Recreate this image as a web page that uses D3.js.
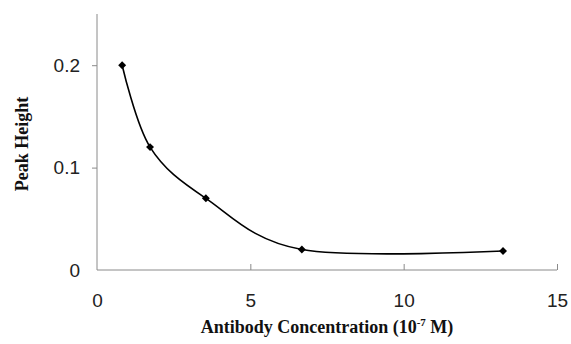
<!DOCTYPE html>
<html>
<head>
<meta charset="utf-8">
<script src="https://cdn.jsdelivr.net/npm/d3@7"></script>
<style>
  html, body { margin: 0; padding: 0; background: #fff; }
  svg { display: block; }
</style>
</head>
<body>
<svg id="chart" width="571" height="344"></svg>
<script>
// antibody concentration (10^-7 M) vs peak height
const concentration = [0.82, 1.73, 3.55, 6.68, 13.24];
const peakHeight = [0.2, 0.12, 0.07, 0.02, 0.0185];
const xTicks = [0, 5, 10, 15];
const yTicks = [0, 0.1, 0.2];

const svg = d3.select("#chart");
const margin = { left: 97, right: 14, top: 14, bottom: 74 };
const width = 571, height = 344;

const x = d3.scaleLinear().domain([0, 15]).range([margin.left, width - margin.right]);
const y = d3.scaleLinear().domain([0, 0.25]).range([height - margin.bottom, margin.top]);

const axisColor = "#8a8a8a";
const tickFont = "'Liberation Sans', Arial, sans-serif";
const titleFont = "'Liberation Serif', 'Times New Roman', serif";

// y axis
const yAxis = svg.append("g")
    .attr("transform", `translate(${margin.left},0)`)
    .call(d3.axisLeft(y).tickValues(yTicks).tickSize(5).tickPadding(12)
        .tickFormat(d => d === 0 ? "0" : d3.format(".1f")(d)));
yAxis.select(".domain").attr("stroke", axisColor).attr("d", `M0,${y(0)}V${y(0.25)}`);
yAxis.selectAll(".tick line").attr("stroke", axisColor);
yAxis.selectAll(".tick").filter(d => d === 0).select("line").remove();

// x axis, ticks pointing up into the plot
const xAxis = svg.append("g")
    .attr("transform", `translate(0,${y(0)})`)
    .call(d3.axisBottom(x).tickValues(xTicks).tickSize(0).tickPadding(22));
xAxis.select(".domain").attr("stroke", axisColor).attr("d", `M${x(0)},0H${x(15)}`);
xAxis.selectAll(".tick").filter(d => d > 0).append("line")
    .attr("y1", 0).attr("y2", -6).attr("stroke", axisColor);

svg.selectAll(".tick text")
    .attr("font-family", tickFont)
    .attr("font-size", 19)
    .attr("fill", "#222");
xAxis.selectAll(".tick text").attr("dy", "0.35em").attr("y", 30);

// smoothed line
const line = d3.line()
    .x((d, i) => x(concentration[i]))
    .y(d => y(d))
    .curve(d3.curveCatmullRom.alpha(0));

svg.append("path")
    .datum(peakHeight)
    .attr("d", line)
    .attr("fill", "none")
    .attr("stroke", "#000")
    .attr("stroke-width", 1.6);

// diamond markers
svg.selectAll("path.marker")
    .data(peakHeight)
    .enter()
    .append("path")
    .attr("class", "marker")
    .attr("transform", (d, i) => `translate(${x(concentration[i])},${y(d)}) rotate(45)`)
    .attr("d", "M-2.8,-2.8H2.8V2.8H-2.8Z")
    .attr("fill", "#000");

// axis titles
svg.append("text")
    .attr("transform", `translate(22,${(y(0) + y(0.25)) / 2 + 2}) rotate(-90)`)
    .attr("text-anchor", "middle")
    .attr("dy", "0.35em")
    .attr("font-family", titleFont)
    .attr("font-weight", "bold")
    .attr("font-size", 18)
    .attr("fill", "#111")
    .text("Peak Height");

const xTitle = svg.append("text")
    .attr("x", (x(0) + x(15)) / 2)
    .attr("y", 333)
    .attr("text-anchor", "middle")
    .attr("font-family", titleFont)
    .attr("font-weight", "bold")
    .attr("font-size", 18)
    .attr("fill", "#111");
xTitle.append("tspan").text("Antibody Concentration (10");
xTitle.append("tspan").attr("dy", -7).attr("font-size", 11).text("-7");
xTitle.append("tspan").attr("dy", 7).text(" M)");
</script>
</body>
</html>
